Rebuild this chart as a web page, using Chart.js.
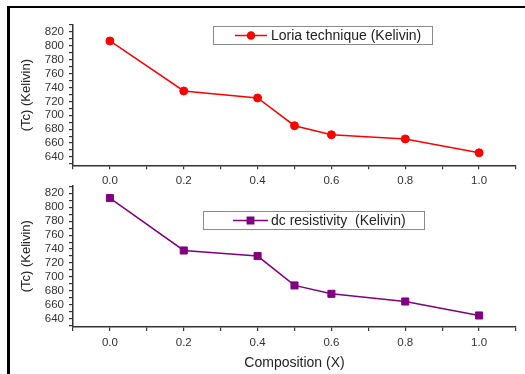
<!DOCTYPE html>
<html><head><meta charset="utf-8">
<script src="https://cdn.jsdelivr.net/npm/chart.js@4.4.0/dist/chart.umd.min.js"></script>
<style>
html,body{margin:0;padding:0;background:#fff;}
body{width:525px;height:374px;position:relative;overflow:hidden;}
#frame{position:absolute;left:7px;top:6px;right:0;bottom:0;border-top:2.5px solid #000;border-left:3px solid #000;}
.wrap{position:absolute;left:0;width:525px;}
</style></head><body>
<div id="frame"></div>
<div class="wrap" style="top:0;height:190px"><canvas id="c1"></canvas></div>
<div class="wrap" style="top:172px;height:202px"><canvas id="c2"></canvas></div>
<script>
// ---- data ----
const composition = [0.0, 0.2, 0.4, 0.5, 0.6, 0.8, 1.0];
const loriaTc = [807, 735, 725, 685, 672, 666, 646];
const dcTc = [813, 738, 730, 688, 676, 665, 645];
const loriaLabel = 'Loria technique (Kelivin)';
const dcLabel = 'dc resistivity  (Kelivin)';
const xTicks = [-0.1, 0.0, 0.1, 0.2, 0.3, 0.4, 0.5, 0.6, 0.7, 0.8, 0.9, 1.0, 1.1];
const xTickLabels = ['', '0.0', '', '0.2', '', '0.4', '', '0.6', '', '0.8', '', '1.0', ''];
const yTicks = [630, 640, 650, 660, 670, 680, 690, 700, 710, 720, 730, 740, 750, 760, 770, 780, 790, 800, 810, 820, 830];
const yTickLabels = ['', '640', '', '660', '', '680', '', '700', '', '720', '', '740', '', '760', '', '780', '', '800', '', '820', ''];
const yTitle = '(Tc) (Kelivin)';
const xTitle = 'Composition (X)';

const FONT = "'Liberation Sans', Arial, sans-serif";
const AX = '#333';

const legendPlugin = {
  id: 'boxLegend',
  afterDraw(chart, args, opts) {
    const ctx = chart.ctx;
    const ds = chart.data.datasets[0];
    ctx.save();
    ctx.strokeStyle = '#8a8a8a';
    ctx.lineWidth = 1;
    ctx.strokeRect(opts.x + 0.5, opts.y + 0.5, opts.w, opts.h);
    ctx.strokeStyle = ds.borderColor;
    ctx.lineWidth = 1.5;
    ctx.beginPath();
    ctx.moveTo(opts.lx1, opts.cy);
    ctx.lineTo(opts.lx2, opts.cy);
    ctx.stroke();
    ctx.fillStyle = ds.borderColor;
    Chart.helpers.drawPoint(ctx, {pointStyle: ds.pointStyle, rotation: 0, radius: opts.r, borderWidth: 1}, (opts.lx1 + opts.lx2) / 2, opts.cy);
    ctx.fillStyle = '#222';
    ctx.font = "14px " + FONT;
    ctx.textBaseline = 'middle';
    ctx.textAlign = 'left';
    ctx.fillText(ds.label, opts.tx, opts.cy + 1);
    ctx.restore();
  }
};

function makeChart(id, label, values, color, pointStyle, radius, yMin, yMax, padTop, xHeight, showXTitle, legend) {
  return new Chart(document.getElementById(id), {
    type: 'line',
    data: {
      datasets: [{
        label: label,
        data: composition.map((x, i) => ({x: x, y: values[i]})),
        borderColor: color,
        backgroundColor: color,
        pointBackgroundColor: color,
        pointBorderColor: color,
        pointStyle: pointStyle,
        pointRadius: radius,
        pointBorderWidth: 1,
        borderWidth: 1.5,
        tension: 0
      }]
    },
    options: {
      responsive: true,
      maintainAspectRatio: false,
      animation: false,
      events: [],
      layout: {padding: {top: padTop, right: 9, left: 0, bottom: 0}},
      plugins: {legend: {display: false}, tooltip: {enabled: false}, boxLegend: legend},
      scales: {
        x: {
          type: 'linear', min: -0.1, max: 1.1,
          afterBuildTicks: s => { s.ticks = xTicks.map(v => ({value: v})); },
          afterFit: s => { s.height = xHeight; },
          border: {color: AX, width: 1.5},
          grid: {drawOnChartArea: false, drawTicks: true, tickLength: 4, color: AX, lineWidth: 1.2},
          ticks: {
            autoSkip: false, maxRotation: 0, padding: 5, color: '#333',
            font: {family: FONT, size: 11.5},
            callback: (v, i) => xTickLabels[i]
          },
          title: {display: showXTitle, text: xTitle, color: '#222', font: {family: FONT, size: 14}, padding: {top: 0, bottom: 2.6}}
        },
        y: {
          type: 'linear', min: yMin, max: yMax,
          afterBuildTicks: s => { s.ticks = yTicks.map(v => ({value: v})); },
          afterFit: s => { s.width = 73; },
          border: {color: AX, width: 1.5},
          grid: {drawOnChartArea: false, drawTicks: true, tickLength: 4, color: AX, lineWidth: 1.2},
          ticks: {
            autoSkip: false, padding: 5, color: '#333',
            font: {family: FONT, size: 11.5},
            callback: (v, i) => yTickLabels[i]
          },
          title: {display: true, text: yTitle, color: '#222', font: {family: FONT, size: 13}, padding: {top: 19, bottom: 0}}
        }
      }
    },
    plugins: [legendPlugin]
  });
}

makeChart('c1', loriaLabel, loriaTc, '#ff0000', 'circle', 4, 628, 830, 25, 24.7, false,
  {x: 213, y: 26, w: 219, h: 18, lx1: 235, lx2: 267, cy: 35.5, r: 3.5, tx: 271});
makeChart('c2', dcLabel, dcTc, '#800080', 'rect', 5, 628.5, 831, 13.5, 47, true,
  {x: 203, y: 39, w: 221, h: 18, lx1: 233, lx2: 268, cy: 48.5, r: 4.5, tx: 271});
</script>
</body></html>
